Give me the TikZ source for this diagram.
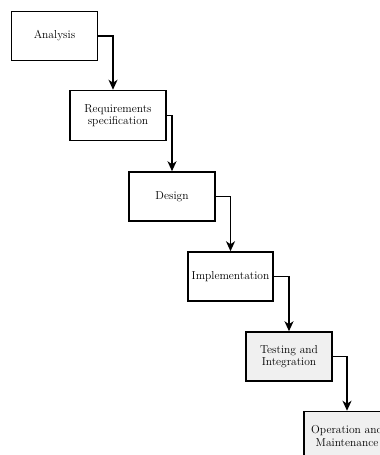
\documentclass[tikz,border=0pt]{standalone}
\usepackage{tikz}
\usetikzlibrary{arrows.meta}

\tikzset{
  phase/.style={draw, line width=1.5pt, minimum width=86pt, minimum height=49pt,
                align=center, font=\fontsize{11.5}{12.5}\selectfont, inner sep=2pt},
  shaded/.style={phase, fill=black!6},
  flow/.style={line width=1.5pt, -{Stealth[length=10pt,width=9pt,inset=3pt]}}
}

\begin{document}
\begin{tikzpicture}[x=1pt, y=-1pt]
            \useasboundingbox (0,0) rectangle (380,455);
            \clip (0,0) rectangle (380,455);

            \node[phase]                          (ana)  at (54.5,36)  {Analysis};
            \node[phase, minimum width=96pt, minimum height=50pt]
                                                  (req)  at (118,115.5) {Requirements\\specification};
            \node[phase]                          (des)  at (172,196.5) {Design};
            \node[phase, minimum width=85pt]      (impl) at (230.5,276.5) {Implementation};
            \node[shaded]                         (test) at (289,356.5) {Testing and\\Integration};
            \node[shaded]                         (op)   at (347,436)  {Operation and\\Maintenance};

            \draw[flow] (ana.east)  -| ([xshift=-5pt]req.north);
            \draw[flow] (req.east)  -| (des.north);
            \draw[flow] (des.east)  -| (impl.north);
            \draw[flow] (impl.east) -| (test.north);
            \draw[flow] (test.east) -| (op.north);
        \end{tikzpicture}
\end{document}
